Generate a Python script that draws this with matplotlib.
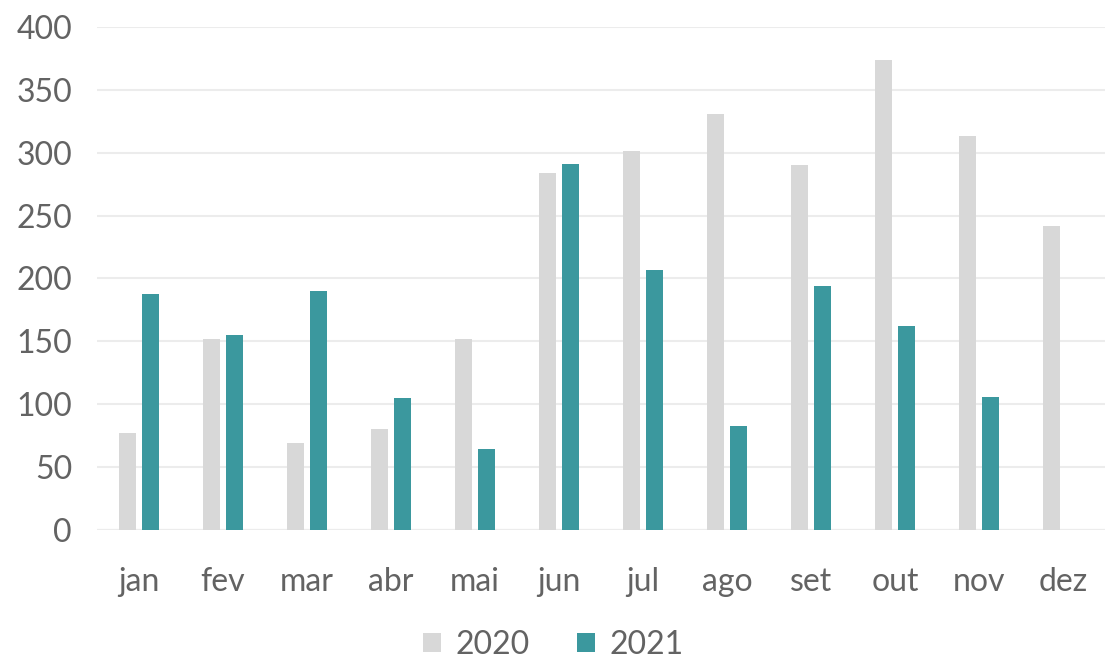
import matplotlib
matplotlib.use("Agg")
import matplotlib.pyplot as plt
import numpy as np

# Monthly values for the two years
months = ['jan', 'fev', 'mar', 'abr', 'mai', 'jun', 'jul', 'ago', 'set', 'out', 'nov', 'dez']
values_2020 = [77, 152, 69, 80, 152, 284, 301, 331, 290, 374, 313, 242]
values_2021 = [188, 155, 190, 105, 64, 291, 207, 83, 194, 162, 106, 0]

color_2020 = '#d8d8d8'
color_2021 = '#3b989e'
text_color = '#636363'

plt.rcParams['font.family'] = ['Lato', 'DejaVu Sans']

fig = plt.figure(figsize=(11.09, 6.59), dpi=100)
ax = fig.add_axes([0.0875, 0.196, 0.909, 0.763])

x = np.arange(len(months))
width = 0.21
offset = 0.137
ax.bar(x - offset, values_2020, width, color=color_2020, label='2020', zorder=2)
ax.bar(x + offset, values_2021, width, color=color_2021, label='2021', zorder=2)

ax.set_xlim(-0.5, len(months) - 0.5)
ax.set_ylim(0, 400)
ax.set_yticks(np.arange(0, 401, 50))
ax.set_xticks(x, months)

ax.yaxis.grid(True, color='#ececec', linewidth=1.5, zorder=0)
ax.axhline(0, color='#d9d9d9', linewidth=1.5, zorder=1)
for side in ['top', 'right', 'left', 'bottom']:
    ax.spines[side].set_visible(False)

ax.tick_params(axis='y', length=0, pad=18, labelsize=23, labelcolor=text_color)
ax.tick_params(axis='x', length=0, pad=27, labelsize=23, labelcolor=text_color)

fig.legend(loc='center', bbox_to_anchor=(0.499, 0.021), ncol=2, frameon=False,
           fontsize=23, labelcolor=text_color, handlelength=0.55, handleheight=0.55,
           handletextpad=0.45, columnspacing=1.5, borderaxespad=0)

fig.savefig('out.png', dpi=100)
